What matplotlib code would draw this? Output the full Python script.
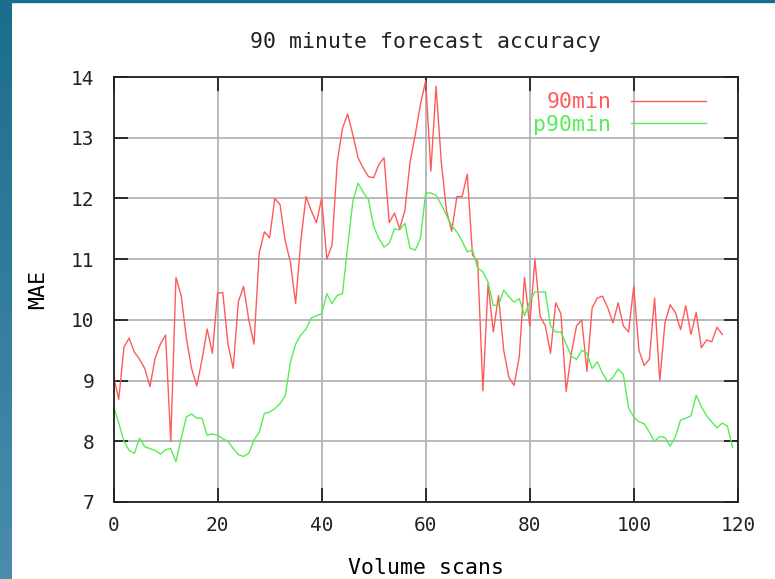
import numpy as np
import matplotlib.pyplot as plt


# =========================================
# DATA
# =========================================

red_scans = list(range(0, 118))

mae_90min = [
    9.07, 8.69, 9.55, 9.70, 9.47, 9.35, 9.20, 8.90, 9.37, 9.60,
    9.75, 8.00, 10.70, 10.40, 9.70, 9.20, 8.91, 9.34, 9.85, 9.45,
    10.44, 10.45, 9.60, 9.20, 10.30, 10.55, 10.00, 9.60, 11.10, 11.45,
    11.35, 12.00, 11.90, 11.30, 10.95, 10.27, 11.30, 12.03, 11.80, 11.60,
    12.00, 11.00, 11.23, 12.60, 13.15, 13.39, 13.05, 12.67, 12.50, 12.36,
    12.34, 12.56, 12.67, 11.60, 11.76, 11.50, 11.80, 12.60, 13.05, 13.55,
    13.94, 12.45, 13.85, 12.60, 11.80, 11.46, 12.03, 12.03, 12.40, 11.07,
    10.96, 8.83, 10.60, 9.80, 10.40, 9.50, 9.05, 8.92, 9.40, 10.70,
    9.90, 11.00, 10.06, 9.90, 9.45, 10.28, 10.10, 8.82, 9.45, 9.90,
    10.00, 9.15, 10.20, 10.36, 10.39, 10.20, 9.95, 10.28, 9.90, 9.80,
    10.55, 9.50, 9.25, 9.35, 10.36, 9.00, 9.95, 10.25, 10.12, 9.84,
    10.23, 9.76, 10.12, 9.54, 9.67, 9.64, 9.88, 9.76
]

green_scans = list(range(0, 120))

mae_p90min = [
    8.58, 8.30, 8.00, 7.85, 7.80, 8.05, 7.91, 7.88, 7.85, 7.79,
    7.86, 7.88, 7.66, 8.05, 8.40, 8.45, 8.38, 8.38, 8.10, 8.12,
    8.10, 8.04, 8.00, 7.88, 7.78, 7.75, 7.80, 8.02, 8.15, 8.46,
    8.48, 8.54, 8.62, 8.75, 9.30, 9.60, 9.75, 9.85, 10.03, 10.07,
    10.10, 10.43, 10.27, 10.40, 10.43, 11.20, 11.95, 12.25, 12.10, 11.98,
    11.54, 11.34, 11.20, 11.26, 11.50, 11.48, 11.59, 11.18, 11.15, 11.34,
    12.09, 12.09, 12.05, 11.90, 11.72, 11.55, 11.45, 11.30, 11.12, 11.15,
    10.85, 10.79, 10.62, 10.24, 10.24, 10.49, 10.38, 10.29, 10.35, 10.07,
    10.30, 10.46, 10.46, 10.46, 9.90, 9.80, 9.80, 9.60, 9.40, 9.35,
    9.50, 9.45, 9.20, 9.31, 9.12, 8.98, 9.05, 9.19, 9.10, 8.55,
    8.40, 8.32, 8.29, 8.15, 8.00, 8.08, 8.06, 7.92, 8.07, 8.35,
    8.38, 8.42, 8.76, 8.57, 8.42, 8.32, 8.22, 8.30, 8.25, 7.90
]

x_ticks = [0, 20, 40, 60, 80, 100, 120]
y_ticks = [7, 8, 9, 10, 11, 12, 13, 14]


# =========================================
# FIGURE
# =========================================

plt.rcParams["font.family"] = ["DejaVu Sans Mono"]
plt.rcParams["text.color"] = "#222222"

fig = plt.figure(
    figsize=(7.75, 5.79),
    dpi=100
)

fig.patch.set_facecolor("white")

# blue frame on the left and top edge
frame_ax = fig.add_axes([0, 0, 12 / 775, 1])
gradient = np.linspace(0, 1, 256).reshape(-1, 1)
frame_ax.imshow(
    gradient,
    aspect="auto",
    cmap=plt.matplotlib.colors.LinearSegmentedColormap.from_list(
        "edge", ["#1b6d8d", "#4a8cab"]
    ),
    extent=[0, 1, 0, 1]
)
frame_ax.axis("off")

fig.patches.append(
    plt.Rectangle(
        (0, 1 - 2 / 579), 1, 2 / 579,
        transform=fig.transFigure,
        color="#1b6d8d",
        zorder=0
    )
)

ax = fig.add_axes([0.1465, 0.133, 0.8055, 0.734])


# =========================================
# LINES
# =========================================

red_line, = ax.plot(
    red_scans,
    mae_90min,
    color="#ff5a5a",
    linewidth=1.0,
    label="90min"
)

green_line, = ax.plot(
    green_scans,
    mae_p90min,
    color="#55ee55",
    linewidth=1.0,
    label="p90min"
)

ax.set_xlim(0, 120)
ax.set_ylim(7, 14)

ax.set_xticks(x_ticks)
ax.set_yticks(y_ticks)

ax.grid(
    True,
    color="#b4b4b4",
    linewidth=1.3
)
ax.set_axisbelow(True)

for spine in ax.spines.values():
    spine.set_linewidth(1.3)
    spine.set_color("#202020")

ax.tick_params(
    direction="in",
    length=10,
    width=1.3,
    top=True,
    right=True,
    labelsize=14,
    color="#202020",
    labelcolor="#222222"
)
ax.tick_params(axis="y", pad=14)
ax.tick_params(axis="x", pad=10)


# =========================================
# LABELS
# =========================================

ax.set_title(
    "90 minute forecast accuracy",
    fontsize=15.5,
    pad=21
)

ax.set_xlabel(
    "Volume scans",
    fontsize=15.5,
    labelpad=17
)

ax.set_ylabel(
    "MAE",
    fontsize=15.5,
    labelpad=16
)

legend = ax.legend(
    loc="upper right",
    frameon=False,
    fontsize=15.5,
    markerfirst=False,
    handlelength=3.5,
    handletextpad=0.9,
    borderaxespad=0.3,
    labelspacing=0.12,
    bbox_to_anchor=(0.973, 1.0)
)

for text, line in zip(legend.get_texts(), [red_line, green_line]):
    text.set_color(line.get_color())

plt.savefig("out.png", dpi=100)
